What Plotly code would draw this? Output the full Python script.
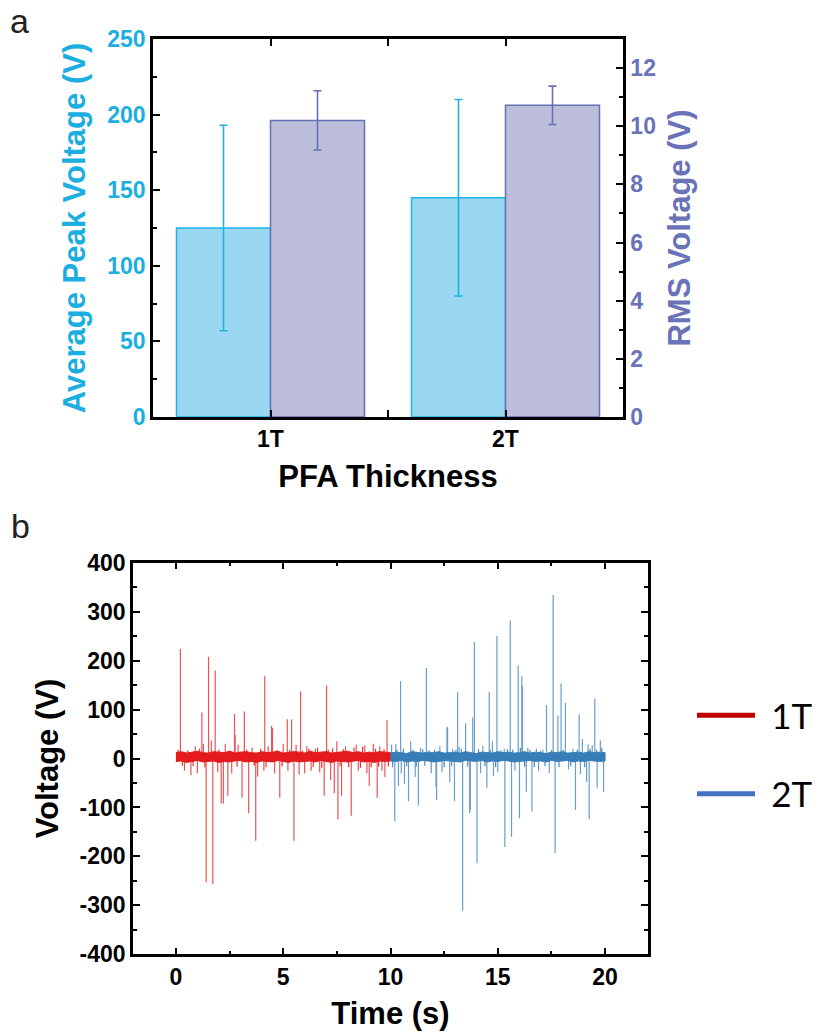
import plotly.graph_objects as go

W, H = 819, 1035

# ---------------- Panel a data ----------------
thickness = ["1T", "2T"]
peak_mean = [125, 145]
peak_err = [68, 65]
rms_mean = [10.2, 10.72]
rms_err = [1.02, 0.66]

# ---------------- Panel b data ----------------
red_spike_t = [0.21, 0.40, 0.70, 0.90, 1.00, 1.21, 1.28, 1.41, 1.52, 1.65, 1.72, 1.83, 1.95,
               2.11, 2.21, 2.30, 2.42, 2.60, 2.73, 2.76, 2.90, 3.08, 3.19, 3.39, 3.55, 3.72,
               3.81, 4.10, 4.14, 4.30, 4.46, 4.50, 4.60, 4.84, 5.00, 5.19, 5.22, 5.39, 5.50,
               5.60, 5.74, 5.81, 6.00, 6.10, 6.30, 6.50, 6.70, 6.91, 7.02, 7.21, 7.38, 7.50,
               7.55, 7.72, 7.90, 8.17, 8.40, 8.50, 8.80, 8.90, 9.01, 9.20, 9.38, 9.50, 9.60,
               9.74, 9.84]
red_spike_v = [224, -25, -34, 25, -30, 94, 30, -253, 208, 37, -257, 180, -28,
               -92, -92, 30, -76, -30, 91, 48, 28, -80, 96, -112, 22, -168,
               -37, -25, 169, 25, 67, 62, -30, -80, 30, 80, -25, 80, -168,
               28, -33, 137, -30, 25, -25, 20, -28, -76, 149, -44, -71, 35,
               -124, -76, 25, -117, 28, -25, 27, -30, -56, 30, -80, 25, -25,
               -38, 78]
red_small_t = [0.10, 0.30, 0.55, 0.80, 1.10, 1.35, 2.00, 2.50, 2.85, 3.30, 3.65, 3.95, 4.20,
               4.70, 4.95, 5.30, 5.90, 6.20, 6.40, 6.60, 6.80, 7.10, 7.30, 7.65, 7.80, 8.05,
               8.30, 8.60, 8.70, 9.10, 9.30, 9.45, 9.70, 9.90]
red_small_v = [18, -15, 17, -16, 20, -18, 18, 16, -17, 18, -15, 20, -18,
               17, -16, 18, 16, 20, -17, 22, -19, 18, 21, -16, 19, -18,
               22, -19, 24, -18, 20, -17, 19, -16]

blue_spike_t = [10.05, 10.20, 10.25, 10.37, 10.47, 10.50, 10.65, 10.84, 10.94, 11.15, 11.30,
                11.40, 11.67, 11.90, 12.12, 12.15, 12.30, 12.40, 12.63, 12.66, 12.76, 12.90,
                12.98, 13.13, 13.20, 13.36, 13.50, 13.69, 13.72, 13.83, 13.91, 14.03, 14.20,
                14.30, 14.49, 14.60, 14.75, 14.80, 14.96, 15.00, 15.30, 15.33, 15.58, 15.64,
                15.80, 15.95, 16.01, 16.12, 16.15, 16.33, 16.40, 16.59, 16.80, 16.90, 17.10,
                17.27, 17.40, 17.58, 17.67, 17.80, 17.95, 18.15, 18.30, 18.50, 18.62, 18.79,
                18.85, 18.94, 19.14, 19.21, 19.26, 19.40, 19.52, 19.63, 19.78, 19.93]
blue_spike_v = [28, -128, 30, -56, 158, -30, -52, -87, 35, -38, -96,
                22, 185, -30, -58, -85, 25, -28, 64, 64, -49, 20,
                -87, 136, 24, -311, 72, -112, -105, 84, 238, -214, -30,
                26, -60, 136, 35, -36, 250, -28, 20, -181, 282, -160,
                -25, 190, -122, 168, 148, -68, 22, -108, 20, -25, 18,
                109, -30, 334, -193, 88, 153, 114, -22, 20, -105, 90,
                -32, 40, -48, 29, -124, 27, 122, -60, 37, -68]
blue_small_t = [10.10, 10.30, 10.60, 10.75, 11.05, 11.20, 11.50, 11.60, 11.80, 12.05, 12.50,
                12.85, 13.05, 13.30, 13.60, 14.10, 14.40, 14.65, 14.90, 15.15, 15.45, 15.70,
                16.05, 16.25, 16.50, 16.70, 17.00, 17.20, 17.50, 17.85, 18.05, 18.40, 18.70,
                19.05, 19.30, 19.60, 19.85]
blue_small_v = [-18, 18, 20, -16, 18, -17, 19, -15, 17, 18, -18,
                -16, 18, 20, -17, 19, -16, 18, -18, 17, 19, 18,
                22, -17, 18, -18, 16, -16, 17, -18, 18, -16, 18,
                -18, 20, 18, 22]

red_band_t = [0.0, 0.25, 0.5, 0.75, 1.0, 1.25, 1.5, 1.75, 2.0, 2.25, 2.5, 2.75, 3.0, 3.25,
              3.5, 3.75, 4.0, 4.25, 4.5, 4.75, 5.0, 5.25, 5.5, 5.75, 6.0, 6.25, 6.5, 6.75,
              7.0, 7.25, 7.5, 7.75, 8.0, 8.25, 8.5, 8.75, 9.0, 9.25, 9.5, 9.75, 10.0]
red_band_hi = [12, 14, 11, 13, 15, 12, 11, 14, 13, 12, 15, 11, 13, 14, 12, 11, 14, 12, 13, 15,
               11, 12, 14, 13, 11, 15, 12, 13, 14, 11, 12, 13, 15, 12, 14, 11, 13, 12, 14, 13, 12]
red_band_lo = [-6, -5, -8, -6, -4, -7, -6, -5, -8, -6, -7, -5, -4, -7, -6, -8, -5, -6, -7, -4,
               -6, -8, -5, -7, -6, -5, -7, -4, -6, -8, -5, -6, -7, -5, -4, -7, -6, -8, -5, -6, -5]

blue_band_t = [10.0, 10.25, 10.5, 10.75, 11.0, 11.25, 11.5, 11.75, 12.0, 12.25, 12.5, 12.75,
               13.0, 13.25, 13.5, 13.75, 14.0, 14.25, 14.5, 14.75, 15.0, 15.25, 15.5, 15.75,
               16.0, 16.25, 16.5, 16.75, 17.0, 17.25, 17.5, 17.75, 18.0, 18.25, 18.5, 18.75,
               19.0, 19.25, 19.5, 19.75, 20.0]
blue_band_hi = [11, 13, 12, 10, 14, 12, 11, 13, 12, 14, 11, 12, 13, 11, 14, 12, 10, 13, 12, 11,
                14, 12, 13, 11, 12, 14, 11, 13, 12, 10, 13, 12, 14, 11, 12, 13, 11, 14, 12, 13, 12]
blue_band_lo = [-5, -6, -4, -7, -5, -6, -4, -5, -7, -6, -4, -5, -6, -7, -4, -5, -6, -4, -7, -5,
                -6, -4, -5, -7, -6, -5, -4, -6, -5, -7, -4, -6, -5, -4, -7, -5, -6, -4, -5, -6, -5]

legend_names = ["1T", "2T"]

y3_ticks = [-400, -300, -200, -100, 0, 100, 200, 300, 400]
y3_ticktext = ["-400", "-300", "-200", "-100", "0", "100", "200", "300", "400"]

# ---------------- styles ----------------
CYAN_FILL, CYAN_LINE, CYAN_TXT = "#9AD7F0", "#1DB3E5", "#1AAFE0"
PURP_FILL, PURP_LINE, PURP_TXT = "#BDBEDC", "#6670B5", "#6A72B8"
RED, BLUE = "#E41A1C", "#377EB8"
LEG_COLORS = ["#C00000", "#4472C4"]
FONT = "Liberation Sans, Arial, sans-serif"
TICK_SIZE = 23
TITLE_SIZE = 31


def px_x(p):
    return p / W


def px_y(p):
    return 1 - p / H


fig = go.Figure()

xpos = list(range(len(thickness)))

fig.add_trace(go.Bar(
    x=xpos, y=peak_mean, offset=-0.4, width=0.4,
    marker=dict(color=CYAN_FILL, line=dict(color=CYAN_LINE, width=1.5)),
    error_y=dict(type="data", array=peak_err, color=CYAN_LINE, thickness=1.6, width=4),
    xaxis="x", yaxis="y", showlegend=False, name="Average Peak Voltage"))
fig.add_trace(go.Bar(
    x=xpos, y=rms_mean, offset=0.0, width=0.4,
    marker=dict(color=PURP_FILL, line=dict(color=PURP_LINE, width=1.5)),
    error_y=dict(type="data", array=rms_err, color=PURP_LINE, thickness=1.6, width=4),
    xaxis="x", yaxis="y2", showlegend=False, name="RMS Voltage"))


def spikes(ts, vs):
    xs, ys = [], []
    for t, v in zip(ts, vs):
        xs += [t, t, None]
        ys += [0, v, None]
    return xs, ys


for ts, vs, col, op in [(red_small_t, red_small_v, RED, 0.9),
                        (blue_small_t, blue_small_v, BLUE, 0.9),
                        (red_spike_t, red_spike_v, RED, 0.75),
                        (blue_spike_t, blue_spike_v, BLUE, 0.75)]:
    sx, sy = spikes(ts, vs)
    fig.add_trace(go.Scatter(x=sx, y=sy, mode="lines", line=dict(color=col, width=1.2),
                             opacity=op, xaxis="x2", yaxis="y3", showlegend=False,
                             hoverinfo="skip"))

for bt, hi, lo, col in [(red_band_t, red_band_hi, red_band_lo, RED),
                        (blue_band_t, blue_band_hi, blue_band_lo, BLUE)]:
    fig.add_trace(go.Scatter(x=bt + bt[::-1], y=hi + lo[::-1], fill="toself",
                             fillcolor=col, mode="lines", line=dict(color=col, width=1),
                             xaxis="x2", yaxis="y3", showlegend=False, hoverinfo="skip"))

for name, col in zip(legend_names, LEG_COLORS):
    fig.add_trace(go.Scatter(x=[None], y=[None], mode="lines", name="\u00a0\u200a" + name,
                             line=dict(color=col, width=5), xaxis="x2", yaxis="y3",
                             legendgroup=name))

axis_common = dict(showline=True, linecolor="black", linewidth=2.5, ticks="inside",
                   tickwidth=2, ticklen=7, tickcolor="black", zeroline=False,
                   showgrid=False, automargin=False)
minor_common = dict(ticks="inside", ticklen=4, tickwidth=2, tickcolor="black")

fig.update_layout(
    width=W, height=H, margin=dict(l=0, r=0, t=0, b=0, autoexpand=False),
    paper_bgcolor="white", plot_bgcolor="white",
    font=dict(family=FONT, color="black"),
    barmode="overlay",
    xaxis=dict(domain=[px_x(153), px_x(623)], range=[-0.5, 1.5], anchor="y",
               tickvals=xpos, ticktext=thickness, mirror="allticks",
               minor=dict(tickvals=[0.5], **minor_common),
               tickfont=dict(size=TICK_SIZE, weight="bold", color="black"),
               title=dict(text="PFA Thickness", font=dict(size=TITLE_SIZE, weight="bold"),
                          standoff=14),
               **axis_common),
    yaxis=dict(domain=[px_y(417), px_y(39)], range=[0, 250], anchor="x",
               tickvals=[0, 50, 100, 150, 200, 250],
               minor=dict(tickvals=[25, 75, 125, 175, 225], **minor_common),
               tickfont=dict(size=TICK_SIZE, weight="bold", color=CYAN_TXT),
               title=dict(text="Average Peak Voltage (V)",
                          font=dict(size=TITLE_SIZE, weight="bold", color=CYAN_TXT),
                          standoff=13),
               **axis_common),
    yaxis2=dict(range=[0, 13], overlaying="y", side="right", anchor="x",
                tickvals=[0, 2, 4, 6, 8, 10, 12],
                minor=dict(tickvals=[1, 3, 5, 7, 9, 11], **minor_common),
                tickfont=dict(size=TICK_SIZE, weight="bold", color=PURP_TXT),
                title=dict(text="RMS Voltage (V)",
                           font=dict(size=TITLE_SIZE, weight="bold", color=PURP_TXT),
                           standoff=14),
                **axis_common),
    xaxis2=dict(domain=[px_x(133), px_x(648)], range=[-2, 22], anchor="y3",
                tickvals=[0, 5, 10, 15, 20], mirror="allticks",
                minor=dict(tickvals=[2.5, 7.5, 12.5, 17.5], **minor_common),
                tickfont=dict(size=TICK_SIZE, weight="bold", color="black"),
                title=dict(text="Time (s)", font=dict(size=TITLE_SIZE, weight="bold"),
                           standoff=14),
                **axis_common),
    yaxis3=dict(domain=[px_y(954.3), px_y(562.7)], range=[-400, 400], anchor="x2",
                tickvals=y3_ticks, ticktext=y3_ticktext, mirror="allticks",
                minor=dict(tickvals=[-350, -250, -150, -50, 50, 150, 250, 350], **minor_common),
                tickfont=dict(size=TICK_SIZE, weight="bold", color="black"),
                title=dict(text="Voltage (V)", font=dict(size=TITLE_SIZE, weight="bold"),
                           standoff=12),
                **axis_common),
    legend=dict(x=px_x(692), y=px_y(686), xanchor="left", yanchor="top",
                font=dict(family="Lato, sans-serif", size=35, color="black"),
                itemwidth=58, tracegroupgap=30, bgcolor="rgba(0,0,0,0)"),
    annotations=[
        dict(text="a", x=px_x(19), y=px_y(21), xref="paper", yref="paper",
             xanchor="center", yanchor="middle",
             showarrow=False, font=dict(size=34, color="#222")),
        dict(text="b", x=px_x(20), y=px_y(526), xref="paper", yref="paper",
             xanchor="center", yanchor="middle",
             showarrow=False, font=dict(size=34, color="#222")),
    ],
)

fig.write_html("out.html")
